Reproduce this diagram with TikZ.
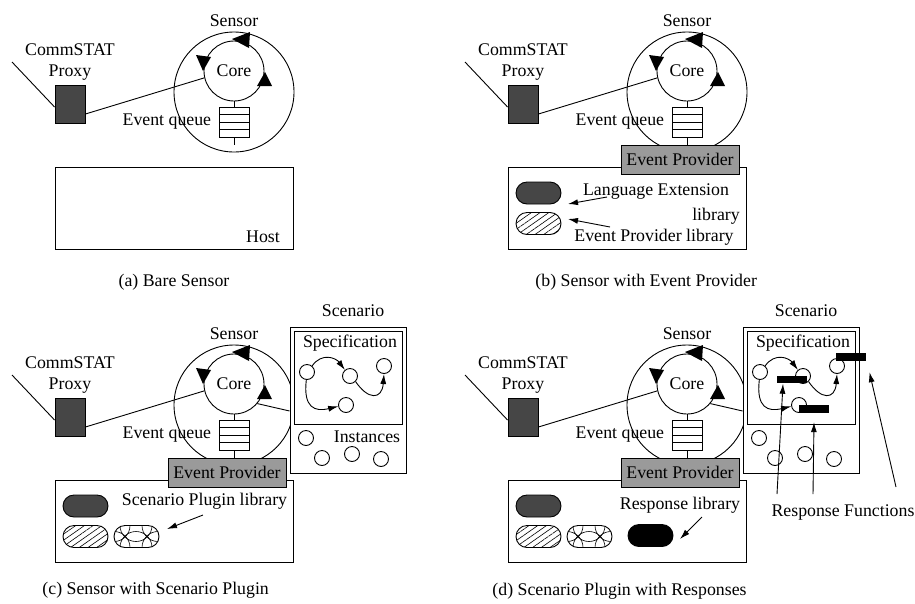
\documentclass[tikz,border=0pt]{standalone}
\usepackage{fontspec}
\setmainfont{Liberation Serif}
\usetikzlibrary{positioning,arrows.meta,patterns.meta}

\definecolor{proxyfill}{HTML}{464646}
\definecolor{providerfill}{HTML}{9A9A9A}

\begin{document}
\begin{tikzpicture}[x=1pt,y=-1pt,line width=0.9pt,
  every node/.style={inner sep=0pt,font=\fontsize{17.8}{21}\selectfont},
  tip/.style={-{Latex[length=10pt,width=6pt]}},
  proxybox/.style={draw,fill=proxyfill,minimum width=30pt,minimum height=38pt},
  sensorring/.style={draw,circle,minimum size=120pt},
  corering/.style={draw,circle,minimum size=60pt},
  queuebox/.style={draw,minimum width=30pt,minimum height=30pt,
    path picture={\foreach \k in {1,2,3}
      \draw ([yshift=-\k*7.5pt]path picture bounding box.north west) -- ([yshift=-\k*7.5pt]path picture bounding box.north east);}},
  hostbox/.style={draw,minimum width=238pt,minimum height=82pt},
  providerbox/.style={draw,fill=providerfill,minimum width=118pt,minimum height=29pt},
  capsule/.style={draw,rounded corners=11pt,minimum width=45pt,minimum height=22pt},
  hatched/.style={capsule,pattern={Lines[angle=35,distance=5pt,line width=0.6pt]}},
  crossed/.style={capsule,
    path picture={\foreach \k in {0,22,44}{
      \draw[line width=0.6pt] ([xshift=\k pt]path picture bounding box.north west) circle (16pt);
      \draw[line width=0.6pt] ([xshift=\k pt]path picture bounding box.south west) circle (16pt);}}},
  state/.style={draw,circle,fill=white,minimum size=15pt},
  respbar/.style={fill=black,minimum width=30pt,minimum height=7.5pt}]
\useasboundingbox (0,0) rectangle (915,603);
\foreach \dx/\dy/\p in {0/0/a,453/0/b,0/313/c,453/313/d}{
\begin{scope}[shift={(\dx,\dy)}]
\node [hostbox] (host\p) at (174,208) {};
\node [sensorring] (sensor\p) at (234,92) {};
\node (sensorlbl\p) at (234,21) {Sensor};
\node [corering] (core\p) at (234,71) {Core};
\fill (232,39) -- (250,32) -- (249,48);
\fill (196,55) -- (211,57) -- (203,71);
\fill (257,86) -- (272,86) -- (265,72);
\node [queuebox] (queue\p) at (234,122) {};
\coordinate (stem\p) at (234,145);
\draw (core\p.south) -- (queue\p.north);
\draw (queue\p.south) -- (stem\p);
\node [left=7pt of queue\p] (evq\p) {Event queue};
\node [proxybox] (proxy\p) at (70,104) {};
\node (commstat\p) at (70,50) {CommSTAT};
\node (proxylbl\p) at (70,73) {Proxy};
\coordinate (wan\p) at (12,62);
\draw (wan\p) -- ([yshift=-3pt]proxy\p.west);
\draw ([yshift=-10pt]proxy\p.east) -- (core\p.193);
\end{scope}
}
\foreach \dx/\dy/\p in {453/0/b,0/313/c,453/313/d}{
\begin{scope}[shift={(\dx,\dy)}]
\node [providerbox] (provider\p) at (227,159.5) {Event Provider};
\node [capsule,fill=proxyfill] (langlib\p) at (85.5,193) {};
\node [hatched] (evlib\p) at (85.5,223.5) {};
\end{scope}
}
\foreach \dx/\p in {0/c,453/d}{
\begin{scope}[shift={(\dx,313)}]
\node [crossed] (pluglib\p) at (136.5,223.5) {};
\node [draw,fill=white,minimum width=116pt,minimum height=146pt] (scen\p) at (348,87) {};
\node (scenlbl\p) at (353,-2) {Scenario};
\node [draw,minimum width=108pt,minimum height=93pt] (spec\p) at (348,64.5) {};
\node (speclbl\p) at (350,30) {Specification};
\node [state] (sa\p) at (307,59) {};
\node [state] (sb\p) at (350,63) {};
\node [state] (sc\p) at (384,53) {};
\node [state] (sd\p) at (346,92) {};
\draw [tip] (sa\p.50) .. controls (322,39) and (336,45) .. (sb\p.130);
\draw [tip] (sa\p.265) .. controls (303,95) and (315,99) .. (sd\p.190);
\draw [tip] (sb\p.-45) .. controls (368,87) and (382,87) .. (sc\p.south);
\node [state] (ia\p) at (306,125) {};
\node [state] (ib\p) at (322,145) {};
\node [state] (ic\p) at (352,141) {};
\node [state] (id\p) at (381,146) {};
\draw (core\p.-40) -- ([yshift=-11pt]scen\p.west);
\end{scope}
}
\node (hostlbl) at (263,237) {Host};
\node (caption-a) at (174,282) {(a) Bare Sensor};
\node (langlbl) at (656,192) {Language Extension};
\node (langlbl2) at (716,216) {library};
\node (evliblbl) at (654,237) {Event Provider library};
\coordinate (langtail) at (607,197);
\coordinate (langhead) at (568,204);
\coordinate (evtail) at (610,227);
\coordinate (evhead) at (568,219);
\draw [tip] (langtail) -- (langhead);
\draw [tip] (evtail) -- (evhead);
\node [anchor=west] (caption-b) at (535,282) {(b) Sensor with Event Provider};
\node (instlbl) at (367,437) {Instances};
\node (pluglbl) at (204.5,501) {Scenario Plugin library};
\coordinate (plugtail) at (203,515);
\coordinate (plughead) at (167,529);
\draw [tip] (plugtail) -- (plughead);
\node [anchor=west] (caption-c) at (42,590) {(c) Sensor with Scenario Plugin};
\node [respbar] (resp1) at (792,379.5) {};
\node [respbar] (resp2) at (814,409) {};
\node [respbar] (resp3) at (851,357) {};
\node (resplbl) at (843,512) {Response Functions};
\coordinate (rf1) at (777,494);
\coordinate (rf2) at (813,494);
\coordinate (rf3) at (896,487);
\draw [tip] (rf1) -- ([xshift=-9pt]resp1.south);
\draw [tip] (rf2) -- ([yshift=-9pt]resp2.south);
\draw [tip] (rf3) -- ([shift={(3pt,-11pt)}]resp3.south east);
\node [capsule,fill=black] (resplib) at (650.5,535.5) {};
\node (resliblbl) at (680,505) {Response library};
\coordinate (restail) at (702,517);
\coordinate (reshead) at (680,539);
\draw [tip] (restail) -- (reshead);
\node [anchor=west] (caption-d) at (492,591) {(d) Scenario Plugin with Responses};
\end{tikzpicture}
\end{document}
